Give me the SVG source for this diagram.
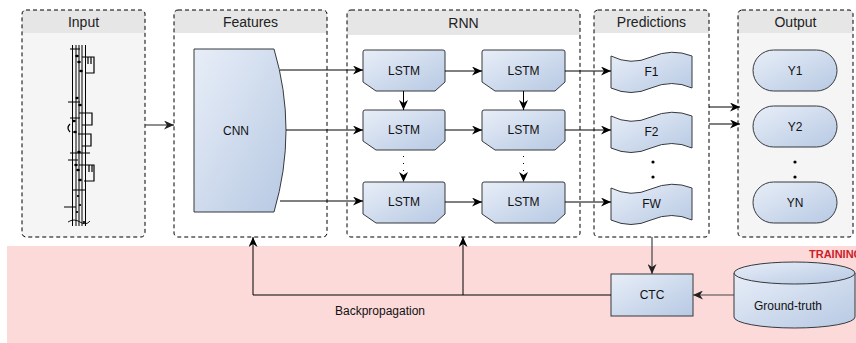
<svg xmlns="http://www.w3.org/2000/svg" width="856" height="343" viewBox="0 0 856 343">
<defs>
<linearGradient id="blue" x1="0" y1="0" x2="1" y2="1">
<stop offset="0" stop-color="#e8eef8"/>
<stop offset="1" stop-color="#b7c9e3"/>
</linearGradient>
<marker id="arr" markerUnits="userSpaceOnUse" markerWidth="11" markerHeight="9" refX="10" refY="4.5" orient="auto">
<path d="M0,0 L10,4.5 L0,9 L3,4.5 Z" fill="#000"/>
</marker>
<marker id="arrg" markerUnits="userSpaceOnUse" markerWidth="11" markerHeight="9" refX="10" refY="4.5" orient="auto">
<path d="M0,0 L10,4.5 L0,9 L3,4.5 Z" fill="#222"/>
</marker>
</defs>
<style>
.box{stroke:#000;stroke-width:1;stroke-dasharray:4 3;fill:none}
.title{font-family:"Liberation Sans",Arial,sans-serif;font-size:14px;fill:#222;text-anchor:middle}
.lbl{font-family:"Liberation Sans",Arial,sans-serif;font-size:12px;fill:#111;text-anchor:middle}
.node{fill:url(#blue);stroke:#36393d;stroke-width:1}
.ln{stroke:#000;stroke-width:1;fill:none;marker-end:url(#arr)}
.lng{stroke:#444;stroke-width:1.2;fill:none;marker-end:url(#arrg)}
.dot{fill:#000}
.staff{stroke:#000;stroke-width:1;fill:none}
</style>

<rect x="7" y="246" width="849" height="97" fill="#fcdada"/>
<text x="809" y="258" font-family="'Liberation Sans',Arial,sans-serif" font-size="11" font-weight="bold" fill="#cc2027">TRAINING</text>

<g id="input">
<path d="M26,10 H141 Q145,10 145,14 V33 H22 V14 Q22,10 26,10 Z" fill="#e6e6e6"/>
<path d="M22,33 H145 V233 Q145,237 141,237 H26 Q22,237 22,233 Z" fill="#f5f5f5"/>
<rect x="22" y="10" width="123" height="227" rx="4" class="box"/>
<text x="83.5" y="27" class="title">Input</text>
<g class="staff">
<line x1="72.5" y1="45" x2="72.5" y2="226"/>
<line x1="76" y1="45" x2="76" y2="226"/>
<line x1="79" y1="45" x2="79" y2="226"/>
<line x1="82" y1="45" x2="82" y2="226"/>
<line x1="85.5" y1="45" x2="85.5" y2="226"/>
<path d="M70,49 H80 M68,102 H80 M70,153 H90 M68,160 H78 M64,207 H76 M70,118 H80 M72,190 H86"/>
<path d="M82,57 H94 V73 H85 M88,57 V64 M91,57 V64" stroke-width="1.2"/>
<path d="M79,113 H92 V125 H82" stroke-width="1.2"/>
<path d="M78,134 H91 V146 H82" stroke-width="1.2"/>
<path d="M79,165 H94 V181 H84 M89,165 V172 M92,165 V172" stroke-width="1.2"/>
<path d="M70,124 Q66,128 70,132" stroke-width="1.2"/>
</g>
<g fill="#000">
<ellipse cx="77" cy="56" rx="1.8" ry="1.3"/><ellipse cx="79" cy="62" rx="1.8" ry="1.3"/><ellipse cx="81" cy="71" rx="1.8" ry="1.3"/>
<ellipse cx="77" cy="98" rx="1.6" ry="1.2"/><ellipse cx="80" cy="105" rx="1.8" ry="1.3"/><ellipse cx="74" cy="121" rx="1.8" ry="1.3"/>
<ellipse cx="75" cy="132" rx="1.8" ry="1.3"/><ellipse cx="79" cy="152" rx="1.8" ry="1.3"/><ellipse cx="76" cy="165" rx="1.8" ry="1.3"/>
<ellipse cx="78" cy="170" rx="1.8" ry="1.3"/><ellipse cx="80" cy="180" rx="1.8" ry="1.3"/><ellipse cx="78" cy="196" rx="1.2" ry="1"/>
<ellipse cx="80" cy="205" rx="1.2" ry="1"/><ellipse cx="77" cy="212" rx="1.2" ry="1"/><ellipse cx="84" cy="222" rx="1.2" ry="1"/>
</g>
<path d="M68,222 Q74,218 80,222 Q86,226 90,221" stroke="#000" fill="none" stroke-width="0.9"/>
</g>

<g id="features">
<path d="M178,10 H323 Q327,10 327,14 V33 H174 V14 Q174,10 178,10 Z" fill="#e6e6e6"/>
<rect x="174" y="10" width="153" height="227" rx="4" class="box"/>
<text x="250.5" y="27" class="title">Features</text>
<path d="M194,49 L274,49 Q298,130 274,212 L194,212 Z" class="node"/>
<text x="236" y="135" class="lbl">CNN</text>
</g>

<g id="rnn">
<path d="M351,10 H576 Q580,10 580,14 V35 H347 V14 Q347,10 351,10 Z" fill="#e6e6e6"/>
<rect x="347" y="10" width="233" height="227" rx="4" class="box"/>
<text x="463.5" y="28" class="title">RNN</text>
</g>

<g id="lstm11"><path d="M363,52 Q363,50 365,50 H443 Q445,50 445,52 V82 L435,91 H376 L363,82 Z" class="node"/><text x="404" y="75" class="lbl">LSTM</text></g>
<g id="lstm12"><path d="M482,52 Q482,50 484,50 H563 Q565,50 565,52 V82 L555,91 H495 L482,82 Z" class="node"/><text x="523.5" y="75" class="lbl">LSTM</text></g>
<g id="lstm21"><path d="M363,112 Q363,110 365,110 H443 Q445,110 445,112 V141 L435,150 H376 L363,141 Z" class="node"/><text x="404" y="134" class="lbl">LSTM</text></g>
<g id="lstm22"><path d="M482,112 Q482,110 484,110 H563 Q565,110 565,112 V141 L555,150 H495 L482,141 Z" class="node"/><text x="523.5" y="134" class="lbl">LSTM</text></g>
<g id="lstm31"><path d="M363,184 Q363,182 365,182 H443 Q445,182 445,184 V214 L435,223 H376 L363,214 Z" class="node"/><text x="404" y="206" class="lbl">LSTM</text></g>
<g id="lstm32"><path d="M482,184 Q482,182 484,182 H563 Q565,182 565,184 V214 L555,223 H495 L482,214 Z" class="node"/><text x="523.5" y="206" class="lbl">LSTM</text></g>

<g id="predictions">
<path d="M598,10 H705 Q709,10 709,14 V33 H594 V14 Q594,10 598,10 Z" fill="#e6e6e6"/>
<rect x="594" y="10" width="115" height="227" rx="4" class="box"/>
<text x="651.5" y="27" class="title">Predictions</text>
<circle cx="653" cy="162" r="1.6" class="dot"/>
<circle cx="653" cy="177" r="1.6" class="dot"/>
</g>
<g id="f1"><path d="M611,56 Q631,66 651,57 Q672,48 692,56 V88 Q672,79 651,88 Q631,97 611,88 Z" class="node"/><text x="651.5" y="76" class="lbl">F1</text></g>
<g id="f2"><path d="M611,116 Q631,126 651,117 Q672,108 692,116 V148 Q672,139 651,148 Q631,157 611,148 Z" class="node"/><text x="651.5" y="136" class="lbl">F2</text></g>
<g id="fw"><path d="M611,188 Q631,198 651,189 Q672,180 692,188 V220 Q672,211 651,220 Q631,229 611,220 Z" class="node"/><text x="651.5" y="208" class="lbl">FW</text></g>

<g id="output">
<path d="M742,10 H849 Q853,10 853,14 V33 H738 V14 Q738,10 742,10 Z" fill="#e6e6e6"/>
<path d="M738,33 H853 V233 Q853,237 849,237 H742 Q738,237 738,233 Z" fill="#f5f5f5"/>
<rect x="738" y="10" width="115" height="227" rx="4" class="box"/>
<text x="795.5" y="27" class="title">Output</text>
<circle cx="795" cy="162" r="1.6" class="dot"/>
<circle cx="795" cy="177" r="1.6" class="dot"/>
</g>
<g id="y1"><rect x="753" y="50" width="84" height="41" rx="20.5" class="node"/><text x="795" y="75" class="lbl">Y1</text></g>
<g id="y2"><rect x="753" y="106" width="84" height="41" rx="20.5" class="node"/><text x="795" y="131" class="lbl">Y2</text></g>
<g id="yn"><rect x="753" y="182" width="84" height="41" rx="20.5" class="node"/><text x="795" y="207" class="lbl">YN</text></g>

<g id="ctc"><rect x="611" y="274" width="82" height="42" class="node"/><text x="652" y="299" class="lbl">CTC</text></g>
<g id="groundtruth">
<path d="M734,273 V317 A60.5,11 0 0 0 855,317 V273" class="node"/>
<ellipse cx="794.5" cy="273" rx="60.5" ry="11" class="node"/>
<text x="788" y="310" class="lbl">Ground-truth</text>
</g>

<g id="connectors">
<path d="M145,125 H174" class="lng"/>
<path d="M280,70 H363" class="ln"/>
<path d="M286,130 H363" class="ln"/>
<path d="M280,201 H363" class="ln"/>
<path d="M445,71 H482" class="ln"/>
<path d="M445,130 H482" class="ln"/>
<path d="M445,202 H482" class="ln"/>
<path d="M403.5,91 V110" class="ln"/>
<path d="M523.5,91 V110" class="ln"/>
<path d="M403.5,156 V182" class="ln" stroke-dasharray="1 6"/>
<path d="M523.5,156 V182" class="ln" stroke-dasharray="1 6"/>
<path d="M565,71 H611" class="ln"/>
<path d="M565,130 H611" class="ln"/>
<path d="M565,202 H611" class="ln"/>
<path d="M709,107 H740" class="ln"/>
<path d="M709,124 H740" class="ln"/>
<path d="M652,237 V274" class="lng"/>
<path d="M734,295 H693" class="lng"/>
<path d="M611,295 H253 V237" class="ln"/>
<path d="M463,295 V237" class="ln"/>
<text x="380" y="315" class="lbl" font-size="11.5">Backpropagation</text>
</g>
</svg>
